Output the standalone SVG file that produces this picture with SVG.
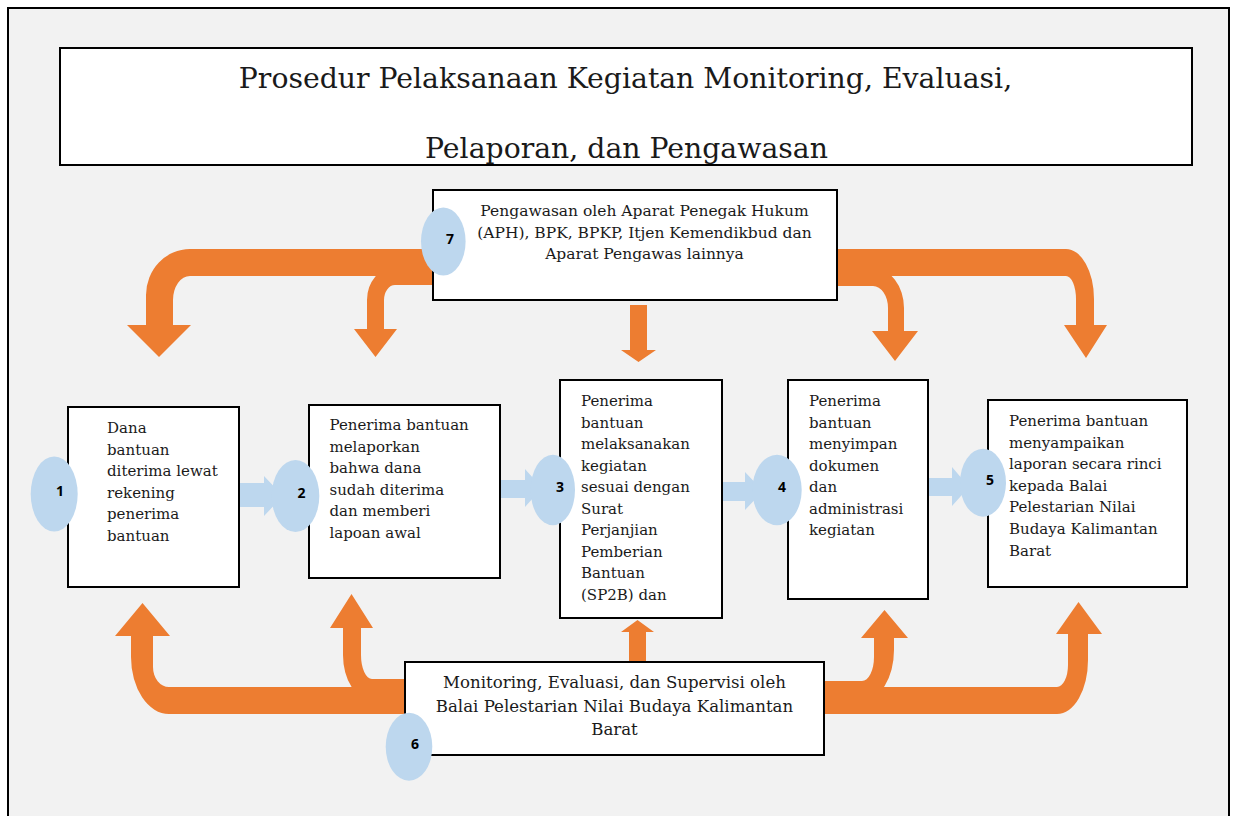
<svg xmlns="http://www.w3.org/2000/svg" width="1233" height="816" viewBox="0 0 1233 816">
<style>
.box{fill:#ffffff;stroke:#000000;stroke-width:2}
.t{font-family:"DejaVu Serif","Liberation Serif",serif;font-size:15px;fill:#1a1a1a}
.tc{font-family:"DejaVu Serif","Liberation Serif",serif;font-size:15.5px;fill:#1a1a1a;text-anchor:middle}
.tc6{font-family:"DejaVu Serif","Liberation Serif",serif;font-size:16.6px;fill:#1a1a1a;text-anchor:middle}
.title{font-family:"DejaVu Serif","Liberation Serif",serif;font-size:28.3px;fill:#1a1a1a;text-anchor:middle}
.num{fill:#bdd7ee}
.lbl{font-family:"Open Sans","Liberation Sans",sans-serif;font-size:14px;font-weight:bold;fill:#000;text-anchor:middle;dominant-baseline:central}
.or{fill:#ed7d31}
.bl{fill:#bdd7ee}
</style>
<rect x="0" y="0" width="1233" height="816" fill="#ffffff"/>
<rect x="8" y="8" width="1221" height="820" fill="#f2f2f2" stroke="#000" stroke-width="2"/>

<g id="title">
<rect class="box" x="60" y="48" width="1132" height="117"/>
<svg x="60" y="48" width="1132" height="116" viewBox="60 48 1132 116" overflow="hidden">
<text class="title" x="625.5" y="87.5">Prosedur Pelaksanaan Kegiatan Monitoring, Evaluasi,</text>
<text class="title" x="626.5" y="158">Pelaporan, dan Pengawasan</text>
</svg>
</g>

<g id="connectors">
<path class="or" d="M 433 267 L 395 267 A 28 33 0 0 0 367 300 L 367 329 L 354 329 L 375.5 357 L 397 329 L 384 329 L 384 300 A 11 15 0 0 1 395 285 L 433 285 Z"/>
<path class="or" d="M 433 249 L 190 249 A 44 46 0 0 0 146 295 L 146 325 L 127 325 L 159 357 L 191 325 L 173 325 L 173 300 A 17 24 0 0 1 190 276 L 433 276 Z"/>
<path class="or" d="M 630 305 L 647 305 L 647 350 L 656 350 L 638.5 362 L 621 350 L 630 350 Z"/>
<path class="or" d="M 836 268 L 873 268 A 31 40 0 0 1 904 308 L 904 331 L 918 331 L 895 361 L 872 331 L 888 331 L 888 308 A 15 22 0 0 0 873 286 L 836 286 Z"/>
<path class="or" d="M 836 249 L 1066 249 A 28 50 0 0 1 1094 299 L 1094 325 L 1107 325 L 1086 358 L 1064 325 L 1076 325 L 1076 299 A 10 23 0 0 0 1066 276 L 836 276 Z"/>

<path class="or" d="M 406 679 L 372 679 A 11 24 0 0 1 361 655 L 361 628 L 373 628 L 351.5 594 L 330 628 L 343 628 L 343 655 A 29 45 0 0 0 372 700 L 406 700 Z"/>
<path class="or" d="M 406 687 L 169 687 A 16 20 0 0 1 153 667 L 153 636 L 170 636 L 142.5 603 L 115 636 L 131 636 L 131 657 A 38 57 0 0 0 169 714 L 406 714 Z"/>
<path class="or" d="M 629 661 L 646 661 L 646 632 L 654 632 L 637.5 620 L 621 632 L 629 632 Z"/>
<path class="or" d="M 824 681 L 862 681 A 12 24 0 0 0 874 657 L 874 638 L 861 638 L 884.5 610 L 908 638 L 894 638 L 894 650 A 32 51 0 0 1 862 701 L 824 701 Z"/>
<path class="or" d="M 824 687 L 1057 687 A 11 22 0 0 0 1068 665 L 1068 634 L 1056 634 L 1078.5 602 L 1102 634 L 1088 634 L 1088 660 A 31 54 0 0 1 1057 714 L 824 714 Z"/>

<path class="bl" d="M 239 483 L 264 483 L 264 476 L 283 496 L 264 516 L 264 507 L 239 507 Z"/>
<path class="bl" d="M 500 480 L 525 480 L 525 469 L 542 488 L 525 507 L 525 498 L 500 498 Z"/>
<path class="bl" d="M 722 482 L 745 482 L 745 472 L 763 491 L 745 510 L 745 501 L 722 501 Z"/>
<path class="bl" d="M 927 478 L 952 478 L 952 467 L 969 487 L 952 506 L 952 496 L 927 496 Z"/>
</g>

<g id="node7">
<rect class="box" x="433" y="190" width="404" height="110"/>
<text class="tc" x="644.5" y="216">Pengawasan oleh Aparat Penegak Hukum</text>
<text class="tc" x="644.5" y="237.5">(APH), BPK, BPKP, Itjen Kemendikbud dan</text>
<text class="tc" x="644.5" y="259">Aparat Pengawas lainnya</text>
<ellipse class="num" cx="443.3" cy="241.5" rx="22.3" ry="34"/>
<text class="lbl" x="450" y="238">7</text>
</g>

<g id="node1">
<rect class="box" x="68" y="407" width="171" height="180"/>
<text class="t" x="107" y="433.3">Dana</text>
<text class="t" x="107" y="454.8">bantuan</text>
<text class="t" x="107" y="476.3">diterima lewat</text>
<text class="t" x="107" y="497.8">rekening</text>
<text class="t" x="107" y="519.3">penerima</text>
<text class="t" x="107" y="540.8">bantuan</text>
<ellipse class="num" cx="54.2" cy="494" rx="23.5" ry="37.5"/>
<text class="lbl" x="60" y="490">1</text>
</g>

<g id="node2">
<rect class="box" x="309" y="405" width="191" height="173"/>
<text class="t" x="329.5" y="430">Penerima bantuan</text>
<text class="t" x="329.5" y="451.5">melaporkan</text>
<text class="t" x="329.5" y="473">bahwa dana</text>
<text class="t" x="329.5" y="494.5">sudah diterima</text>
<text class="t" x="329.5" y="516">dan memberi</text>
<text class="t" x="329.5" y="537.5">lapoan awal</text>
<ellipse class="num" cx="295.5" cy="496" rx="23.8" ry="36"/>
<text class="lbl" x="301.5" y="492">2</text>
</g>

<g id="node3">
<rect class="box" x="560" y="380" width="162" height="238"/>
<text class="t" x="581" y="406">Penerima</text>
<text class="t" x="581" y="427.5">bantuan</text>
<text class="t" x="581" y="449">melaksanakan</text>
<text class="t" x="581" y="470.5">kegiatan</text>
<text class="t" x="581" y="492">sesuai dengan</text>
<text class="t" x="581" y="513.5">Surat</text>
<text class="t" x="581" y="535">Perjanjian</text>
<text class="t" x="581" y="556.5">Pemberian</text>
<text class="t" x="581" y="578">Bantuan</text>
<text class="t" x="581" y="599.5">(SP2B) dan</text>
<ellipse class="num" cx="552.8" cy="490" rx="22.2" ry="35.3"/>
<text class="lbl" x="560" y="486">3</text>
</g>

<g id="node4">
<rect class="box" x="788" y="380" width="140" height="219"/>
<text class="t" x="809" y="406">Penerima</text>
<text class="t" x="809" y="427.5">bantuan</text>
<text class="t" x="809" y="449">menyimpan</text>
<text class="t" x="809" y="470.5">dokumen</text>
<text class="t" x="809" y="492">dan</text>
<text class="t" x="809" y="513.5">administrasi</text>
<text class="t" x="809" y="535">kegiatan</text>
<ellipse class="num" cx="777" cy="490" rx="24.7" ry="35.3"/>
<text class="lbl" x="782" y="486">4</text>
</g>

<g id="node5">
<rect class="box" x="988" y="400" width="199" height="187"/>
<text class="t" x="1009" y="426">Penerima bantuan</text>
<text class="t" x="1009" y="447.6">menyampaikan</text>
<text class="t" x="1009" y="469.2">laporan secara rinci</text>
<text class="t" x="1009" y="490.8">kepada Balai</text>
<text class="t" x="1009" y="512.4">Pelestarian Nilai</text>
<text class="t" x="1009" y="534">Budaya Kalimantan</text>
<text class="t" x="1009" y="555.6">Barat</text>
<ellipse class="num" cx="983" cy="482.7" rx="23" ry="34"/>
<text class="lbl" x="990" y="479">5</text>
</g>

<g id="node6">
<rect class="box" x="405" y="662" width="419" height="93"/>
<text class="tc6" x="614.5" y="688.3">Monitoring, Evaluasi, dan Supervisi oleh</text>
<text class="tc6" x="614.5" y="711.7">Balai Pelestarian Nilai Budaya Kalimantan</text>
<text class="tc6" x="614.5" y="735">Barat</text>
<ellipse class="num" cx="409" cy="746.7" rx="23.3" ry="34"/>
<text class="lbl" x="415" y="743">6</text>
</g>
</svg>
